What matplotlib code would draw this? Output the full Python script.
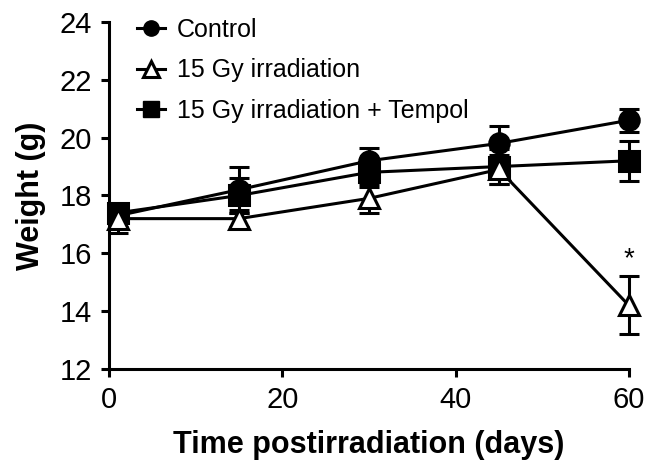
import numpy as np
import matplotlib
matplotlib.use("Agg")
import matplotlib.pyplot as plt
from matplotlib.lines import Line2D

plt.rcParams['font.family'] = ['Liberation Sans', 'DejaVu Sans']

days = [1, 15, 30, 45, 60]
control = [17.3, 18.2, 19.2, 19.8, 20.6]
control_err = [0.4, 0.8, 0.45, 0.6, 0.4]
irradiated = [17.2, 17.2, 17.9, 18.9, 14.2]
irradiated_err = [0.5, 0.3, 0.5, 0.5, 1.0]
tempol = [17.4, 18.0, 18.8, 19.0, 19.2]
tempol_err = [0.3, 0.6, 0.5, 0.6, 0.7]
labels = ['Control', '15 Gy irradiation', '15 Gy irradiation + Tempol']

fig = plt.figure(figsize=(6.45, 4.66), dpi=100)
ax = fig.add_axes([0.169, 0.208, 0.806, 0.745])

lw = 2.2
common = dict(color='black', lw=lw, capsize=7, capthick=lw, elinewidth=lw,
              markeredgewidth=lw, clip_on=False)
ax.errorbar(days, control, yerr=control_err, marker='o', ms=14,
            mfc='black', zorder=3, **common)
ax.errorbar(days, irradiated, yerr=irradiated_err, marker='^', ms=15,
            mfc='white', zorder=4, **common)
ax.errorbar(days, tempol, yerr=tempol_err, marker='s', ms=14,
            mfc='black', zorder=3, **common)

ax.text(days[-1], irradiated[-1] + irradiated_err[-1] + 0.15, '*',
        ha='center', va='bottom', fontsize=20)

ax.set_xlim(0, 60)
ax.set_ylim(12, 24)
ax.set_xticks([0, 20, 40, 60])
ax.set_yticks(np.arange(12, 25, 2))
for s in ['top', 'right']:
    ax.spines[s].set_visible(False)
for s in ['left', 'bottom']:
    ax.spines[s].set_linewidth(lw)
ax.tick_params(width=lw, length=6, labelsize=21, pad=6)
ax.set_xlabel('Time postirradiation (days)', fontsize=22, fontweight='bold',
              labelpad=12)
ax.set_ylabel('Weight (g)', fontsize=22, fontweight='bold', labelpad=10)

handles = [
    Line2D([], [], color='black', lw=lw, marker='o', ms=11, mfc='black'),
    Line2D([], [], color='black', lw=lw, marker='^', ms=11, mfc='white',
           markeredgewidth=lw),
    Line2D([], [], color='black', lw=lw, marker='s', ms=11, mfc='black'),
]
ax.legend(handles, labels, loc='upper left', frameon=False, fontsize=18,
          handlelength=1.1, handletextpad=0.5, labelspacing=0.65,
          borderaxespad=0.0, bbox_to_anchor=(0.035, 1.04))

fig.savefig('out.png', dpi=100)
